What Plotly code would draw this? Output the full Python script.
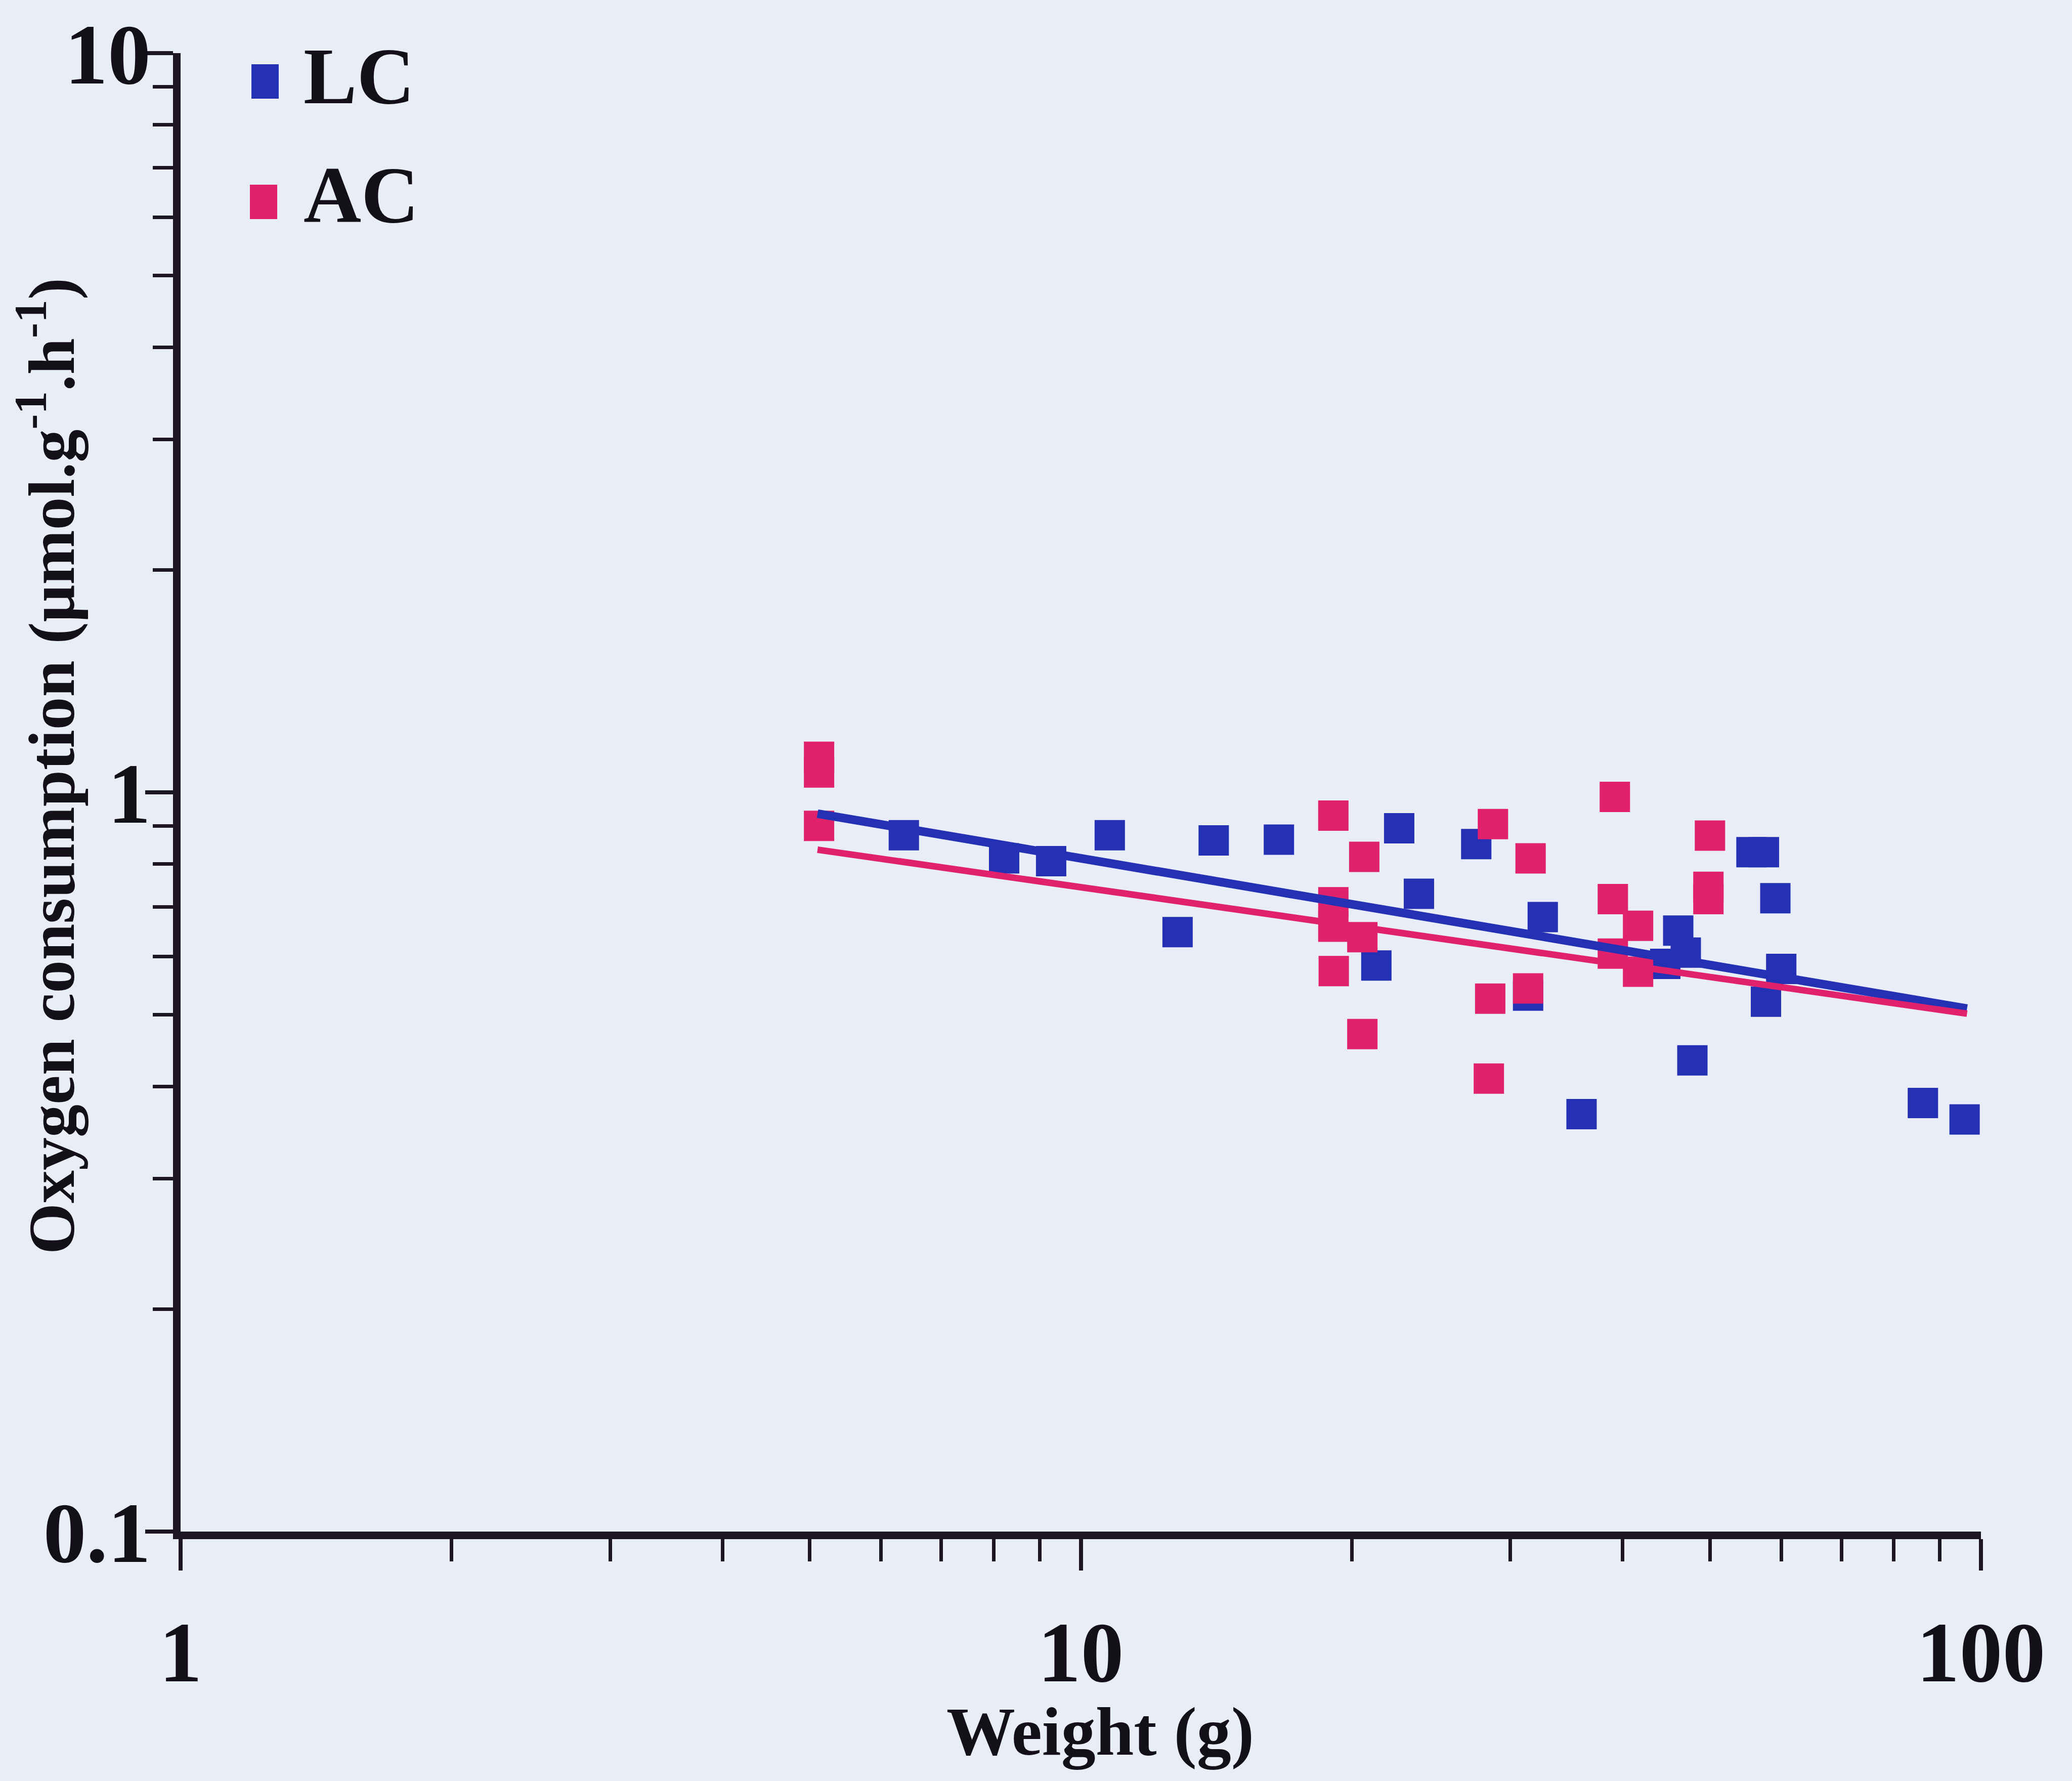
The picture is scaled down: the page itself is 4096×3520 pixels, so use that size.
import plotly.graph_objects as go
import numpy as np

# ---- data ----
lc_weight = [6.36, 8.22, 9.27, 10.77, 12.81, 14.05, 16.6, 22.58, 21.3, 23.75, 27.5,
             32.6, 31.4, 36.0, 46.1, 47.0, 44.6, 47.8, 55.6, 57.4, 59.1, 60.0, 57.7,
             86.2, 95.9]
lc_o2 = [0.875, 0.814, 0.807, 0.875, 0.647, 0.861, 0.863, 0.894, 0.583, 0.729, 0.851,
         0.678, 0.531, 0.367, 0.650, 0.607, 0.586, 0.434, 0.830, 0.830, 0.719, 0.577, 0.521,
         0.380, 0.361]

ac_weight = [5.12, 5.12, 5.12, 19.08, 20.65, 19.08, 19.08, 20.55, 19.1, 20.55, 28.7,
             31.6, 28.5, 31.4, 28.4, 39.2, 39.0, 39.0, 41.6, 41.6, 50.0, 49.8, 49.8]
ac_o2 = [1.117, 1.064, 0.901, 0.930, 0.818, 0.710, 0.658, 0.637, 0.573, 0.471, 0.906,
         0.814, 0.526, 0.543, 0.410, 0.986, 0.717, 0.605, 0.660, 0.572, 0.874, 0.745, 0.717]

# power-law fits y = a * x^b
lc_fit = (1.31, -0.2065)
ac_fit = (1.11, -0.1737)
fit_range = [5.1, 96.5]

series_names = ["LC", "AC"]
x_major = [1, 10, 100]
x_major_text = ["1", "10", "100"]
x_minor = [2, 3, 4, 5, 6, 7, 8, 9, 20, 30, 40, 50, 60, 70, 80, 90]
y_major = [0.1, 1, 10]
y_major_text = ["0.1", "1", "10"]
y_minor = [0.2, 0.3, 0.4, 0.5, 0.6, 0.7, 0.8, 0.9, 2, 3, 4, 5, 6, 7, 8, 9]

# ---- style ----
BLUE = "#2431B5"
RED = "#E1216B"
AXIS = "#1b1620"
BG = "#E9EDF7"
FONT = "Liberation Serif"
TXT = "#141018"

W, H = 4096, 3520
L, R, T, B = 357, 180, 105, 493

fig = go.Figure()

fig.add_trace(go.Scatter(x=lc_weight, y=lc_o2, mode="markers", name=series_names[0],
                         marker=dict(symbol="square", size=60, color=BLUE),
                         showlegend=False))
fig.add_trace(go.Scatter(x=ac_weight, y=ac_o2, mode="markers", name=series_names[1],
                         marker=dict(symbol="square", size=60, color=RED),
                         showlegend=False))

fx = np.array(fit_range)
fig.add_trace(go.Scatter(x=fx, y=lc_fit[0] * fx ** lc_fit[1], mode="lines",
                         line=dict(color=BLUE, width=17), showlegend=False))
fig.add_trace(go.Scatter(x=fx, y=ac_fit[0] * fx ** ac_fit[1], mode="lines",
                         line=dict(color=RED, width=13), showlegend=False))

tickfont = dict(family=FONT, size=170, color=TXT, weight="bold")

fig.update_xaxes(type="log", range=[0, 2], tickmode="array", tickvals=x_major,
                 ticktext=x_major_text, ticks="outside", ticklen=62, tickwidth=8,
                 tickcolor=AXIS, showline=True, linewidth=15, linecolor=AXIS,
                 showgrid=False, zeroline=False, tickfont=tickfont,
                 ticklabelstandoff=15,
                 minor=dict(ticks="outside", ticklen=44, tickwidth=7, tickcolor=AXIS,
                            tickmode="array", tickvals=x_minor, showgrid=False))
fig.update_yaxes(type="log", range=[-1, 1], tickmode="array", tickvals=y_major,
                 ticktext=y_major_text, ticks="outside", ticklen=55, tickwidth=8,
                 tickcolor=AXIS, showline=True, linewidth=15, linecolor=AXIS,
                 showgrid=False, zeroline=False, tickfont=tickfont,
                 ticklabelstandoff=-45,
                 minor=dict(ticks="outside", ticklen=40, tickwidth=7, tickcolor=AXIS,
                            tickmode="array", tickvals=y_minor, showgrid=False))

pw = W - L - R
ph = H - T - B


def px_x(p):
    return (p - L) / pw


def px_y(p):
    return (H - B - p) / ph


# legend keys (drawn as shapes + text)
legend_colors = [BLUE, RED]
legend_centers = [(524, 161), (521, 399)]
legend_text_y = [150, 385]
for name, col, (cx, cy), ty in zip(series_names, legend_colors, legend_centers, legend_text_y):
    fig.add_shape(type="rect", xref="paper", yref="paper",
                  x0=px_x(cx - 27), x1=px_x(cx + 27), y0=px_y(cy + 34), y1=px_y(cy - 34),
                  fillcolor=col, line=dict(width=0))
    fig.add_annotation(xref="paper", yref="paper", x=px_x(598), y=px_y(ty),
                       xanchor="left", yanchor="middle", showarrow=False, text=name,
                       font=dict(family=FONT, size=158, color=TXT, weight="bold"))

# axis titles
fig.add_annotation(xref="paper", yref="paper", x=px_x(2175), y=px_y(3422),
                   xanchor="center", yanchor="middle", showarrow=False,
                   text="Weight (g)",
                   font=dict(family=FONT, size=136, color=TXT, weight="bold"))
fig.add_annotation(xref="paper", yref="paper", x=px_x(92), y=px_y(1514),
                   xanchor="center", yanchor="middle", showarrow=False, textangle=-90,
                   text="Oxygen consumption (\u03bcmol.g<sup>-1</sup>.h<sup>-1</sup>)",
                   font=dict(family=FONT, size=130, color=TXT, weight="bold"))

fig.update_layout(width=W, height=H, margin=dict(l=L, r=R, t=T, b=B, pad=0),
                  paper_bgcolor=BG, plot_bgcolor=BG, showlegend=False)

fig.write_html("out.html")
